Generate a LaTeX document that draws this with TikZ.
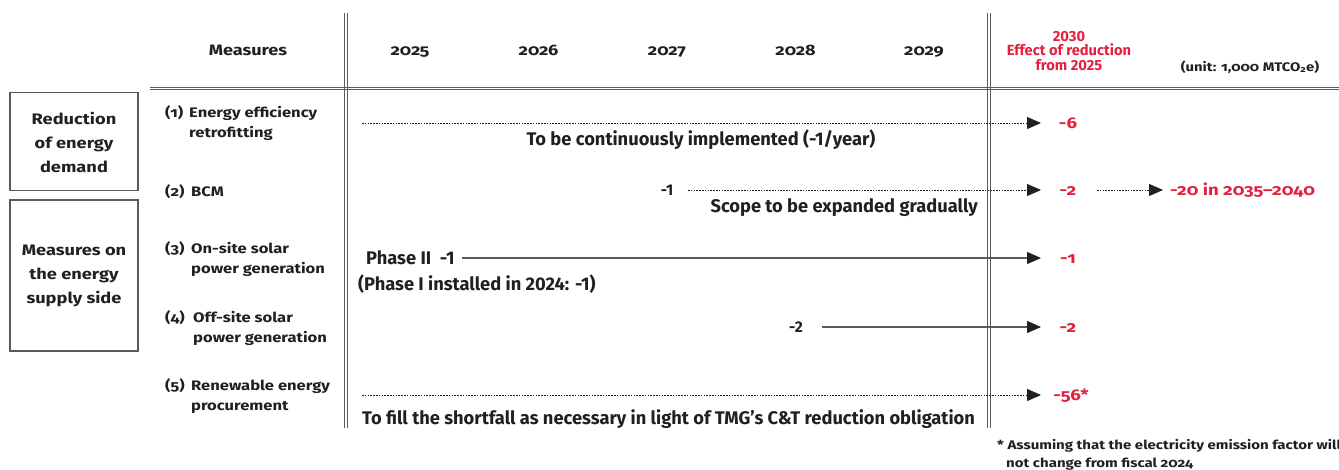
\documentclass[tikz,border=0pt]{standalone}
\usepackage{fontspec}
\setmainfont{Fira Sans}
\newfontfamily\wf[Numbers=OldStyle,FakeStretch=1.2]{Fira Sans}
\newfontfamily\cf{Fira Sans}
\usetikzlibrary{arrows.meta}
\definecolor{tred}{HTML}{E2213E}
\definecolor{ink}{HTML}{231F20}
\definecolor{gridc}{HTML}{5A5A5A}
\begin{document}
\begin{tikzpicture}[x=1pt,y=-1pt,
  lab/.style={font=\wf\bfseries\fontsize{13.8}{20}\selectfont, text=ink, inner sep=0pt},
  hdr/.style={font=\wf\bfseries\fontsize{15.1}{20}\selectfont, text=ink, inner sep=0pt},
  boxtxt/.style={font=\wf\bfseries\fontsize{15.2}{24}\selectfont, text=ink, inner sep=0pt, align=center},
  cnd/.style={font=\cf\bfseries\fontsize{18.3}{20}\selectfont, text=ink, inner sep=0pt},
  small/.style={font=\cf\bfseries\fontsize{15.5}{18}\selectfont, text=ink, inner sep=0pt},
  redv/.style={font=\wf\bfseries\fontsize{15.5}{18}\selectfont, text=tred, inner sep=0pt},
  rhdr/.style={font=\cf\bfseries\fontsize{14.7}{14.5}\selectfont, text=tred, inner sep=0pt, align=center},
  note/.style={font=\wf\bfseries\fontsize{12.5}{14}\selectfont, text=ink, inner sep=0pt},
  gridline/.style={draw=gridc, line width=1pt},
  catbox/.style={draw=gridc, line width=1.3pt},
  tip/.style={-{Triangle[length=14pt,width=12pt,color=ink]}},
  dotarrow/.style={tip, draw=ink, line width=0.8pt, dash pattern=on 1.6pt off 1.2pt},
  solarrow/.style={tip, draw=gridc, line width=1.2pt}]
\useasboundingbox (0,0) rectangle (1339,469);

% grid
\draw[gridline] (344,13) -- (344,428);
\draw[gridline] (347.5,13) -- (347.5,428);
\draw[gridline] (987.5,13) -- (987.5,428);
\draw[gridline] (990.5,13) -- (990.5,428);
\draw[gridline] (150,87) -- (1339,87);
\draw[gridline] (150,89.8) -- (1339,89.8);

% category boxes
\draw[catbox] (10,92.5) rectangle (138,190.5);
\draw[catbox] (10,200) rectangle (138,351);
\node[boxtxt] (c1) at (74,142) {Reduction\\of energy\\demand};
\node[boxtxt] (c2) at (74,276) {Measures on\\the energy\\supply side};

% headers
\node[hdr, anchor=base] (hm) at (248,55) {Measures};
\node[hdr, anchor=base] (y25) at (410,55) {2025};
\node[hdr, anchor=base] (y26) at (538.5,55) {2026};
\node[hdr, anchor=base] (y27) at (667,55) {2027};
\node[hdr, anchor=base] (y28) at (795.5,55) {2028};
\node[hdr, anchor=base] (y29) at (924,55) {2029};
\node[rhdr] (h30) at (1069,51) {2030\\Effect of reduction\\from 2025};
\node[note, anchor=base, font=\wf\bfseries\fontsize{12.4}{14}\selectfont] (unit) at (1250,71) {(unit: 1,000 MTCO\textsubscript{2}e)};

% measure labels
\node[lab, anchor=base west] (n1) at (165,117) {(1)};
\node[lab, anchor=base west] (m1a) at (189,117) {Energy efficiency};
\node[lab, anchor=base west] (m1b) at (189,137) {retrofitting};
\node[lab, anchor=base west] (n2) at (165,196) {(2)};
\node[lab, anchor=base west] (m2a) at (191,196) {BCM};
\node[lab, anchor=base west] (n3) at (165,253) {(3)};
\node[lab, anchor=base west] (m3a) at (191,253) {On-site solar};
\node[lab, anchor=base west] (m3b) at (191,273) {power generation};
\node[lab, anchor=base west] (n4) at (165,322) {(4)};
\node[lab, anchor=base west] (m4a) at (193,322) {Off-site solar};
\node[lab, anchor=base west] (m4b) at (193,342) {power generation};
\node[lab, anchor=base west] (n5) at (165,390) {(5)};
\node[lab, anchor=base west] (m5a) at (191,390) {Renewable energy};
\node[lab, anchor=base west] (m5b) at (191,410) {procurement};

% row 1
\coordinate (s1) at (362,123);
\coordinate (e1) at (1041,123);
\draw[dotarrow] (s1) -- (e1);
\node[cnd, anchor=base] (t1) at (701,145) {To be continuously implemented (-1/year)};
\node[redv, anchor=base] (v1) at (1068,128.5) {-6};

% row 2
\node[small, anchor=base] (a2) at (667,195.5) {-1};
\coordinate (s2) at (688,190);
\coordinate (e2) at (1041,190);
\draw[dotarrow] (s2) -- (e2);
\node[cnd, anchor=base east] (t2) at (978,212) {Scope to be expanded gradually};
\node[redv, anchor=base] (v2) at (1068,195.5) {-2};
\coordinate (s2b) at (1097,190);
\coordinate (e2b) at (1163,190);
\draw[dotarrow] (s2b) -- (e2b);
\node[redv, anchor=base west] (v2b) at (1170,195.5) {-20 in 2035–2040};

% row 3
\node[cnd, anchor=base west] (a3) at (366,264) {Phase II\ \ -1};
\coordinate (s3) at (462,258);
\coordinate (e3) at (1041,258);
\draw[solarrow] (s3) -- (e3);
\node[cnd, anchor=base west] (t3) at (358,290) {(Phase I installed in 2024: -1)};
\node[redv, anchor=base] (v3) at (1068,263.5) {-1};

% row 4
\node[small, anchor=base] (a4) at (796,332.5) {-2};
\coordinate (s4) at (822,327);
\coordinate (e4) at (1041,327);
\draw[solarrow] (s4) -- (e4);
\node[redv, anchor=base] (v4) at (1068,332.5) {-2};

% row 5
\coordinate (s5) at (362,395);
\coordinate (e5) at (1041,395);
\draw[dotarrow] (s5) -- (e5);
\node[cnd, anchor=base west] (t5) at (362,424) {To fill the shortfall as necessary in light of TMG’s C\&T reduction obligation};
\node[redv, anchor=base] (v5) at (1071,400.5) {-56*};

% footnote
\node[note, anchor=base west] (f1) at (997,449) {* Assuming that the electricity emission factor will};
\node[note, anchor=base west] (f2) at (1006,467) {not change from fiscal 2024};
\end{tikzpicture}
\end{document}
